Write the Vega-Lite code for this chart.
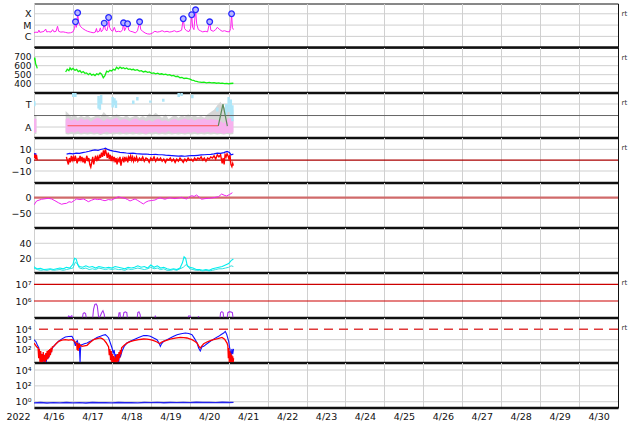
{
"$schema": "https://vega.github.io/schema/vega-lite/v6.json",
"padding": {"left": 3, "top": 2.5, "right": 0, "bottom": 0},
"spacing": 0,
"bounds": "flush",
"config": {
  "view": {"stroke": "#111", "strokeWidth": 1},
  "font": "DejaVu Sans",
  "axis": {"labelFont": "DejaVu Sans", "labelFontSize": 9.5, "labelColor": "#111", "gridColor": "#d0d0d0", "gridWidth": 1, "ticks": false, "tickSize": 0, "labelPadding": 3, "domain": false, "titleFont": "DejaVu Sans"},
  "axisY": {"minExtent": 30, "maxExtent": 30, "grid": false, "titleAngle": 0, "titleX": 587, "titleY": 10, "titleAlign": "left", "titleBaseline": "middle", "titleFontSize": 7, "titleFontWeight": "normal", "titleColor": "#333", "labelOverlap": false},
  "axisX": {"labelFlush": false, "labelOverlap": false, "labelBound": false},
  "rule": {"color": "#cfcfcf", "strokeWidth": 1}
},
"datasets": {
  "xr": [{"h":0,"v":-5.68},{"h":1.2,"v":-5.62},{"h":2.4,"v":-5.66},{"h":3.0,"v":-5.45},{"h":3.6,"v":-5.64},{"h":5,"v":-5.6},{"h":6.2,"v":-5.55},{"h":7.2,"v":-5.35},{"h":7.8,"v":-5.6},{"h":9,"v":-5.58},{"h":10.5,"v":-5.62},{"h":11.5,"v":-5.4},{"h":12.3,"v":-5.6},{"h":13.6,"v":-5.55},{"h":14.5,"v":-5.1},{"h":15.2,"v":-5.55},{"h":16.5,"v":-5.62},{"h":18,"v":-5.6},{"h":19.5,"v":-5.65},{"h":21,"v":-5.7},{"h":22.5,"v":-5.68},{"h":24,"v":-5.6},{"h":25,"v":-5.3},{"h":25.6,"v":-4.71},{"h":26.1,"v":-5.2},{"h":26.6,"v":-4.6},{"h":26.9,"v":-3.91},{"h":27.5,"v":-4.7},{"h":28.5,"v":-5.1},{"h":30,"v":-5.3},{"h":31.6,"v":-5.45},{"h":33,"v":-5.55},{"h":34.7,"v":-5.62},{"h":36.5,"v":-5.68},{"h":37.8,"v":-5.62},{"h":38.5,"v":-5.3},{"h":39,"v":-5.62},{"h":40.2,"v":-5.55},{"h":40.9,"v":-5.25},{"h":41.5,"v":-5.6},{"h":42.5,"v":-5.4},{"h":43.3,"v":-4.83},{"h":44,"v":-5.4},{"h":45,"v":-5.5},{"h":45.6,"v":-5.1},{"h":46,"v":-4.33},{"h":46.6,"v":-5.2},{"h":47.5,"v":-5.45},{"h":48.5,"v":-5.55},{"h":49.5,"v":-5.2},{"h":50.5,"v":-5.6},{"h":52,"v":-5.55},{"h":53.5,"v":-5.6},{"h":54.6,"v":-5.4},{"h":55.2,"v":-4.8},{"h":55.8,"v":-5.5},{"h":56.8,"v":-5.2},{"h":57.7,"v":-4.88},{"h":58.4,"v":-5.45},{"h":59.5,"v":-5.55},{"h":61,"v":-5.6},{"h":62.5,"v":-5.7},{"h":63.8,"v":-5.5},{"h":65.1,"v":-4.71},{"h":65.8,"v":-5.4},{"h":67,"v":-5.55},{"h":68.5,"v":-5.7},{"h":70,"v":-5.78},{"h":71.5,"v":-5.8},{"h":73,"v":-5.7},{"h":74.5,"v":-5.55},{"h":76,"v":-5.62},{"h":77.5,"v":-5.58},{"h":79,"v":-5.5},{"h":80.5,"v":-5.6},{"h":82,"v":-5.55},{"h":83.5,"v":-5.62},{"h":85,"v":-5.58},{"h":86.5,"v":-5.5},{"h":88,"v":-5.6},{"h":89.5,"v":-5.55},{"h":91,"v":-5.45},{"h":92,"v":-4.44},{"h":92.8,"v":-5.3},{"h":94,"v":-5.5},{"h":95.5,"v":-5.58},{"h":96.5,"v":-5.3},{"h":97.2,"v":-4.09},{"h":97.8,"v":-5.2},{"h":98.6,"v":-5.4},{"h":99.6,"v":-3.65},{"h":100.3,"v":-4.9},{"h":101.3,"v":-5.4},{"h":102.5,"v":-5.5},{"h":104,"v":-5.6},{"h":105.5,"v":-5.55},{"h":107,"v":-5.6},{"h":108.3,"v":-4.71},{"h":109,"v":-5.45},{"h":110.5,"v":-5.55},{"h":112,"v":-5.4},{"h":113,"v":-5.2},{"h":114.5,"v":-5.4},{"h":116,"v":-5.55},{"h":117.5,"v":-5.5},{"h":119,"v":-5.58},{"h":120.5,"v":-5.6},{"h":121.2,"v":-5.3},{"h":121.8,"v":-4.0},{"h":122.3,"v":-5.2},{"h":122.9,"v":-5.4}],
  "fl": [{"h":25.6,"v":-4.71},{"h":26.9,"v":-3.91},{"h":43.3,"v":-4.83},{"h":46.0,"v":-4.33},{"h":55.2,"v":-4.80},{"h":57.7,"v":-4.88},{"h":65.1,"v":-4.71},{"h":92.0,"v":-4.44},{"h":97.2,"v":-4.09},{"h":99.6,"v":-3.65},{"h":108.3,"v":-4.71},{"h":121.8,"v":-4.0}],
  "sw": [{"s":1,"h":0,"v":660},{"s":1,"h":0.5,"v":690},{"s":1,"h":1,"v":620},{"s":1,"h":1.5,"v":600},{"s":1,"h":2,"v":570},
    {"s":2,"h":19.5,"v":530},{"s":2,"h":20.5,"v":560},{"s":2,"h":21.5,"v":545},{"s":2,"h":22.2,"v":575},{"s":2,"h":23,"v":555},{"s":2,"h":24,"v":570},{"s":2,"h":25.3,"v":548},{"s":2,"h":26.3,"v":560},{"s":2,"h":27.3,"v":535},{"s":2,"h":28.3,"v":545},{"s":2,"h":29.3,"v":522},{"s":2,"h":30.3,"v":535},{"s":2,"h":31.4,"v":515},{"s":2,"h":32.4,"v":520},{"s":2,"h":33.5,"v":500},{"s":2,"h":34.5,"v":515},{"s":2,"h":35.6,"v":495},{"s":2,"h":36.6,"v":505},{"s":2,"h":37.6,"v":490},{"s":2,"h":38.6,"v":510},{"s":2,"h":39.7,"v":500},{"s":2,"h":40.7,"v":520},{"s":2,"h":41.7,"v":505},{"s":2,"h":42.7,"v":465},{"s":2,"h":43.7,"v":490},{"s":2,"h":44.8,"v":540},{"s":2,"h":45.8,"v":530},{"s":2,"h":46.8,"v":548},{"s":2,"h":47.8,"v":540},{"s":2,"h":48.9,"v":560},{"s":2,"h":49.9,"v":550},{"s":2,"h":50.9,"v":582},{"s":2,"h":52,"v":565},{"s":2,"h":53,"v":585},{"s":2,"h":54.1,"v":570},{"s":2,"h":55.1,"v":578},{"s":2,"h":56.1,"v":565},{"s":2,"h":57.1,"v":575},{"s":2,"h":58.1,"v":560},{"s":2,"h":59.2,"v":565},{"s":2,"h":60.2,"v":555},{"s":2,"h":61.3,"v":560},{"s":2,"h":62.3,"v":548},{"s":2,"h":63.6,"v":555},{"s":2,"h":65,"v":540},{"s":2,"h":66.2,"v":545},{"s":2,"h":67.4,"v":530},{"s":2,"h":68.7,"v":538},{"s":2,"h":70,"v":525},{"s":2,"h":71.2,"v":530},{"s":2,"h":72.5,"v":515},{"s":2,"h":73.8,"v":520},{"s":2,"h":75,"v":510},{"s":2,"h":76.3,"v":516},{"s":2,"h":77.5,"v":505},{"s":2,"h":78.7,"v":510},{"s":2,"h":80,"v":500},{"s":2,"h":81.2,"v":505},{"s":2,"h":82.4,"v":495},{"s":2,"h":83.6,"v":500},{"s":2,"h":84.8,"v":487},{"s":2,"h":86,"v":492},{"s":2,"h":87.3,"v":478},{"s":2,"h":88.6,"v":482},{"s":2,"h":90,"v":466},{"s":2,"h":91.2,"v":470},{"s":2,"h":92.5,"v":458},{"s":2,"h":93.8,"v":462},{"s":2,"h":95.1,"v":455},{"s":2,"h":96.2,"v":450},{"s":2,"h":97.3,"v":440},{"s":2,"h":98.3,"v":438},{"s":2,"h":99.3,"v":428},{"s":2,"h":100.3,"v":425},{"s":2,"h":101.3,"v":420},{"s":2,"h":102.3,"v":418},{"s":2,"h":103.3,"v":414},{"s":2,"h":104.8,"v":418},{"s":2,"h":106.4,"v":410},{"s":2,"h":108,"v":414},{"s":2,"h":109.5,"v":408},{"s":2,"h":111,"v":412},{"s":2,"h":112.5,"v":405},{"s":2,"h":114,"v":408},{"s":2,"h":114.7,"v":403},{"s":2,"h":116,"v":406},{"s":2,"h":117.5,"v":400},{"s":2,"h":119,"v":404},{"s":2,"h":119.8,"v":399},{"s":2,"h":121,"v":402},{"s":2,"h":122.9,"v":405}],
  "ip": [{"s":1,"h":0,"lo":-1.5,"hi":-0.25},{"s":1,"h":1.5,"lo":-1.45,"hi":-0.3},
    {"s":2,"h":19.5,"lo":-1.45,"hi":-0.35},{"s":2,"h":21,"lo":-1.55,"hi":-0.2},{"s":2,"h":23,"lo":-1.4,"hi":-0.45},{"s":2,"h":25,"lo":-1.5,"hi":-0.3},{"s":2,"h":27,"lo":-1.35,"hi":-0.5},{"s":2,"h":29,"lo":-1.55,"hi":-0.25},{"s":2,"h":31,"lo":-1.45,"hi":-0.4},{"s":2,"h":33,"lo":-1.5,"hi":-0.3},{"s":2,"h":35,"lo":-1.4,"hi":-0.55},{"s":2,"h":37,"lo":-1.55,"hi":-0.35},{"s":2,"h":39,"lo":-1.45,"hi":-0.2},{"s":2,"h":41,"lo":-1.6,"hi":-0.3},{"s":2,"h":43,"lo":-1.5,"hi":-0.5},{"s":2,"h":45,"lo":-1.4,"hi":-0.25},{"s":2,"h":47,"lo":-1.55,"hi":-0.4},{"s":2,"h":49,"lo":-1.45,"hi":-0.3},{"s":2,"h":51,"lo":-1.5,"hi":-0.2},{"s":2,"h":53,"lo":-1.4,"hi":-0.45},{"s":2,"h":55,"lo":-1.55,"hi":-0.3},{"s":2,"h":57,"lo":-1.45,"hi":-0.35},{"s":2,"h":59,"lo":-1.5,"hi":-0.5},{"s":2,"h":61,"lo":-1.4,"hi":-0.3},{"s":2,"h":63,"lo":-1.55,"hi":-0.25},{"s":2,"h":65,"lo":-1.45,"hi":-0.45},{"s":2,"h":67,"lo":-1.5,"hi":-0.35},{"s":2,"h":69,"lo":-1.6,"hi":-0.5},{"s":2,"h":71,"lo":-1.45,"hi":-0.4},{"s":2,"h":73,"lo":-1.5,"hi":-0.55},{"s":2,"h":75,"lo":-1.4,"hi":-0.35},{"s":2,"h":77,"lo":-1.55,"hi":-0.3},{"s":2,"h":79,"lo":-1.45,"hi":-0.5},{"s":2,"h":81,"lo":-1.5,"hi":-0.4},{"s":2,"h":83,"lo":-1.35,"hi":-0.55},{"s":2,"h":85,"lo":-1.5,"hi":-0.35},{"s":2,"h":87,"lo":-1.55,"hi":-0.3},{"s":2,"h":89,"lo":-1.45,"hi":-0.45},{"s":2,"h":91,"lo":-1.5,"hi":-0.35},{"s":2,"h":93,"lo":-1.55,"hi":-0.25},{"s":2,"h":95,"lo":-1.45,"hi":-0.4},{"s":2,"h":97,"lo":-1.5,"hi":-0.3},{"s":2,"h":99,"lo":-1.4,"hi":-0.45},{"s":2,"h":101,"lo":-1.55,"hi":-0.3},{"s":2,"h":103,"lo":-1.45,"hi":-0.35},{"s":2,"h":105,"lo":-1.5,"hi":-0.25},{"s":2,"h":107,"lo":-1.4,"hi":-0.4},{"s":2,"h":109,"lo":-1.5,"hi":-0.3},{"s":2,"h":111,"lo":-1.45,"hi":-0.35},{"s":2,"h":113,"lo":-1.55,"hi":-0.4},{"s":2,"h":115,"lo":-1.5,"hi":-0.5},{"s":2,"h":117,"lo":-1.6,"hi":-0.7},{"s":2,"h":119,"lo":-1.5,"hi":-0.3},{"s":2,"h":121,"lo":-1.55,"hi":-0.2},{"s":2,"h":122.9,"lo":-1.45,"hi":-0.35}],
  "ig": [{"s":1,"h":0,"lo":-1.6,"hi":-0.1},{"s":1,"h":1.5,"lo":-1.6,"hi":0.0},
    {"s":2,"h":19.5,"lo":-1.6,"hi":0.4},{"s":2,"h":21,"lo":-1.65,"hi":0.2},{"s":2,"h":23,"lo":-1.6,"hi":-0.1},{"s":2,"h":25,"lo":-1.65,"hi":0.1},{"s":2,"h":27,"lo":-1.6,"hi":-0.2},{"s":2,"h":29,"lo":-1.65,"hi":-0.05},{"s":2,"h":31,"lo":-1.6,"hi":-0.15},{"s":2,"h":33,"lo":-1.65,"hi":0.0},{"s":2,"h":35,"lo":-1.6,"hi":-0.2},{"s":2,"h":37,"lo":-1.65,"hi":-0.1},{"s":2,"h":39,"lo":-1.6,"hi":0.05},{"s":2,"h":41,"lo":-1.7,"hi":-0.1},{"s":2,"h":43,"lo":-1.6,"hi":0.3},{"s":2,"h":45,"lo":-1.65,"hi":0.0},{"s":2,"h":47,"lo":-1.6,"hi":-0.15},{"s":2,"h":49,"lo":-1.65,"hi":-0.05},{"s":2,"h":51,"lo":-1.6,"hi":0.1},{"s":2,"h":53,"lo":-1.65,"hi":-0.1},{"s":2,"h":55,"lo":-1.6,"hi":-0.15},{"s":2,"h":57,"lo":-1.65,"hi":0.0},{"s":2,"h":59,"lo":-1.6,"hi":-0.2},{"s":2,"h":61,"lo":-1.65,"hi":-0.1},{"s":2,"h":63,"lo":-1.6,"hi":0.0},{"s":2,"h":65,"lo":-1.65,"hi":-0.2},{"s":2,"h":67,"lo":-1.6,"hi":-0.05},{"s":2,"h":69,"lo":-1.65,"hi":-0.2},{"s":2,"h":71,"lo":-1.6,"hi":0.2},{"s":2,"h":73,"lo":-1.65,"hi":0.0},{"s":2,"h":75,"lo":-1.6,"hi":0.25},{"s":2,"h":77,"lo":-1.65,"hi":0.0},{"s":2,"h":79,"lo":-1.6,"hi":-0.2},{"s":2,"h":81,"lo":-1.65,"hi":0.1},{"s":2,"h":83,"lo":-1.6,"hi":-0.3},{"s":2,"h":85,"lo":-1.65,"hi":-0.1},{"s":2,"h":87,"lo":-1.6,"hi":0.05},{"s":2,"h":89,"lo":-1.65,"hi":-0.2},{"s":2,"h":91,"lo":-1.6,"hi":0.0},{"s":2,"h":93,"lo":-1.65,"hi":-0.1},{"s":2,"h":95,"lo":-1.6,"hi":0.1},{"s":2,"h":97,"lo":-1.65,"hi":-0.1},{"s":2,"h":99,"lo":-1.6,"hi":0.0},{"s":2,"h":101,"lo":-1.65,"hi":-0.15},{"s":2,"h":103,"lo":-1.6,"hi":-0.05},{"s":2,"h":105,"lo":-1.65,"hi":-0.2},{"s":2,"h":107,"lo":-1.6,"hi":0.1},{"s":2,"h":109,"lo":-1.65,"hi":0.3},{"s":2,"h":111,"lo":-1.6,"hi":0.5},{"s":2,"h":113,"lo":-1.65,"hi":0.9},{"s":2,"h":115,"lo":-1.6,"hi":1.2},{"s":2,"h":117,"lo":-1.65,"hi":0.6},{"s":2,"h":119,"lo":-1.6,"hi":1.0},{"s":2,"h":121,"lo":-1.65,"hi":0.8},{"s":2,"h":122.9,"lo":-1.6,"hi":0.5}],
  "ib": [{"h":0.2,"lo":0.8,"hi":1.25},{"h":24.2,"lo":1.6,"hi":1.95},{"h":25.5,"lo":1.6,"hi":1.95},{"h":39.8,"lo":0.6,"hi":1.7},{"h":40.6,"lo":0.5,"hi":1.5},{"h":41.4,"lo":1.0,"hi":1.78},{"h":48.5,"lo":0.7,"hi":1.6},{"h":49.6,"lo":0.9,"hi":1.5},{"h":50.5,"lo":0.65,"hi":1.3},{"h":61.2,"lo":1.0,"hi":1.3},{"h":63.7,"lo":1.3,"hi":1.6},{"h":71.7,"lo":1.1,"hi":1.3},{"h":79.7,"lo":1.2,"hi":1.45},{"h":89.2,"lo":1.6,"hi":1.95},{"h":91,"lo":1.7,"hi":1.95},{"h":97.6,"lo":1.5,"hi":1.8},{"h":113,"lo":0.35,"hi":0.7},{"h":118.5,"lo":0.0,"hi":1.0},{"h":120,"lo":0.3,"hi":1.6},{"h":121.3,"lo":-0.2,"hi":1.4},{"h":122.3,"lo":-0.5,"hi":0.9}],
  "ir": [{"h":20.7,"v":-0.89},{"h":113.6,"v":-0.89}],
  "igr": [{"h":113.6,"v":-0.89},{"h":116.5,"v":0.99},{"h":119.2,"v":-0.92}],
  "bt": [{"s":1,"h":0,"v":6},{"s":1,"h":1.5,"v":5.5},
    {"s":2,"h":20.1,"v":5.6},{"s":2,"h":22,"v":6.2},{"s":2,"h":24,"v":5.8},{"s":2,"h":26,"v":6.5},{"s":2,"h":28,"v":6.3},{"s":2,"h":30,"v":7},{"s":2,"h":32,"v":7.5},{"s":2,"h":34,"v":8.2},{"s":2,"h":36,"v":9},{"s":2,"h":37.6,"v":9.5},{"s":2,"h":39.5,"v":9},{"s":2,"h":41,"v":9.8},{"s":2,"h":43,"v":10.5},{"s":2,"h":44,"v":11},{"s":2,"h":45,"v":10.2},{"s":2,"h":47,"v":9},{"s":2,"h":49,"v":8.3},{"s":2,"h":51,"v":7.8},{"s":2,"h":53,"v":7.2},{"s":2,"h":55,"v":7},{"s":2,"h":57,"v":6.6},{"s":2,"h":59,"v":6.3},{"s":2,"h":61,"v":6.5},{"s":2,"h":63,"v":6},{"s":2,"h":65,"v":5.8},{"s":2,"h":67,"v":5.6},{"s":2,"h":69,"v":5.7},{"s":2,"h":71,"v":5.3},{"s":2,"h":73,"v":5.2},{"s":2,"h":75,"v":5.4},{"s":2,"h":77,"v":5},{"s":2,"h":79,"v":5},{"s":2,"h":81,"v":4.6},{"s":2,"h":83,"v":4.4},{"s":2,"h":85,"v":4.2},{"s":2,"h":87,"v":4},{"s":2,"h":89,"v":3.7},{"s":2,"h":91,"v":3.9},{"s":2,"h":93,"v":3.6},{"s":2,"h":95,"v":4},{"s":2,"h":97,"v":4.3},{"s":2,"h":99,"v":4.2},{"s":2,"h":101,"v":4.5},{"s":2,"h":103,"v":4.8},{"s":2,"h":105,"v":5},{"s":2,"h":107,"v":5.2},{"s":2,"h":109,"v":5.4},{"s":2,"h":111,"v":5.8},{"s":2,"h":113,"v":6.5},{"s":2,"h":115,"v":6.2},{"s":2,"h":117,"v":7},{"s":2,"h":119,"v":8},{"s":2,"h":120.5,"v":7},{"s":2,"h":121.5,"v":5},{"s":2,"h":122.9,"v":5.5}],
  "bz": [{"s":1,"h":0,"v":2},{"s":1,"h":0.5,"v":6},{"s":1,"h":1,"v":1},{"s":1,"h":1.5,"v":5},{"s":1,"h":2,"v":0},
    {"s":2,"h":20,"v":3},{"s":2,"h":20.6,"v":-1},{"s":2,"h":21.2,"v":-4},{"s":2,"h":21.8,"v":2},{"s":2,"h":22.4,"v":-2},{"s":2,"h":23,"v":4},{"s":2,"h":23.6,"v":0},{"s":2,"h":24.2,"v":3},{"s":2,"h":24.8,"v":-1},{"s":2,"h":25.4,"v":4},{"s":2,"h":26,"v":1},{"s":2,"h":26.6,"v":-3},{"s":2,"h":27.2,"v":2},{"s":2,"h":27.8,"v":-1},{"s":2,"h":28.4,"v":4},{"s":2,"h":29,"v":0},{"s":2,"h":29.6,"v":3},{"s":2,"h":30.2,"v":-2},{"s":2,"h":30.8,"v":2},{"s":2,"h":31.4,"v":-3},{"s":2,"h":32,"v":1},{"s":2,"h":32.6,"v":4},{"s":2,"h":33.2,"v":-1},{"s":2,"h":33.8,"v":2},{"s":2,"h":34.4,"v":-4},{"s":2,"h":35,"v":-6.5},{"s":2,"h":35.6,"v":-2},{"s":2,"h":36.2,"v":3},{"s":2,"h":36.8,"v":-4},{"s":2,"h":37.4,"v":1},{"s":2,"h":38,"v":4},{"s":2,"h":38.6,"v":-1},{"s":2,"h":39.2,"v":3},{"s":2,"h":39.8,"v":0},{"s":2,"h":40.4,"v":5},{"s":2,"h":41,"v":2},{"s":2,"h":41.6,"v":7},{"s":2,"h":42.2,"v":3},{"s":2,"h":42.8,"v":9},{"s":2,"h":43.4,"v":4},{"s":2,"h":44,"v":10},{"s":2,"h":44.6,"v":6},{"s":2,"h":45.2,"v":2},{"s":2,"h":45.8,"v":7},{"s":2,"h":46.4,"v":1},{"s":2,"h":47,"v":5},{"s":2,"h":47.6,"v":-1},{"s":2,"h":48.2,"v":4},{"s":2,"h":48.8,"v":0},{"s":2,"h":49.4,"v":3},{"s":2,"h":50,"v":-2},{"s":2,"h":50.6,"v":2},{"s":2,"h":51.2,"v":-4},{"s":2,"h":51.8,"v":1},{"s":2,"h":52.4,"v":-1},{"s":2,"h":53,"v":3},{"s":2,"h":53.6,"v":-5},{"s":2,"h":54.2,"v":0},{"s":2,"h":54.8,"v":2},{"s":2,"h":55.4,"v":-2},{"s":2,"h":56,"v":3},{"s":2,"h":56.6,"v":0},{"s":2,"h":57.2,"v":2},{"s":2,"h":57.8,"v":-2},{"s":2,"h":58.4,"v":3},{"s":2,"h":59,"v":1},{"s":2,"h":59.6,"v":4},{"s":2,"h":60.2,"v":0},{"s":2,"h":60.8,"v":3},{"s":2,"h":61.4,"v":-1},{"s":2,"h":62,"v":2},{"s":2,"h":62.6,"v":0},{"s":2,"h":63.2,"v":3},{"s":2,"h":64,"v":-1},{"s":2,"h":65,"v":2},{"s":2,"h":66,"v":0},{"s":2,"h":67,"v":3},{"s":2,"h":68,"v":-1},{"s":2,"h":69,"v":2},{"s":2,"h":70,"v":1},{"s":2,"h":71,"v":-2},{"s":2,"h":72,"v":2},{"s":2,"h":73,"v":0},{"s":2,"h":74,"v":3},{"s":2,"h":75,"v":-1},{"s":2,"h":76,"v":2},{"s":2,"h":77,"v":0},{"s":2,"h":78,"v":2},{"s":2,"h":79,"v":-1},{"s":2,"h":80,"v":1},{"s":2,"h":81,"v":-2},{"s":2,"h":82,"v":1},{"s":2,"h":83,"v":0},{"s":2,"h":84,"v":2},{"s":2,"h":85,"v":-1},{"s":2,"h":86,"v":1},{"s":2,"h":87,"v":-2},{"s":2,"h":88,"v":1},{"s":2,"h":89,"v":-1},{"s":2,"h":90,"v":2},{"s":2,"h":91,"v":0},{"s":2,"h":92,"v":-2},{"s":2,"h":93,"v":1},{"s":2,"h":94,"v":-1},{"s":2,"h":95,"v":2},{"s":2,"h":96,"v":0},{"s":2,"h":97,"v":1},{"s":2,"h":98,"v":-1},{"s":2,"h":99,"v":2},{"s":2,"h":100,"v":0},{"s":2,"h":101,"v":2},{"s":2,"h":102,"v":1},{"s":2,"h":103,"v":3},{"s":2,"h":104,"v":0},{"s":2,"h":105,"v":2},{"s":2,"h":106,"v":-1},{"s":2,"h":107,"v":2},{"s":2,"h":108,"v":1},{"s":2,"h":109,"v":3},{"s":2,"h":110,"v":2},{"s":2,"h":111,"v":4},{"s":2,"h":112,"v":1},{"s":2,"h":113,"v":5},{"s":2,"h":114,"v":3},{"s":2,"h":115,"v":5},{"s":2,"h":116,"v":-3},{"s":2,"h":116.6,"v":2},{"s":2,"h":117.2,"v":-4},{"s":2,"h":117.8,"v":5},{"s":2,"h":118.4,"v":3},{"s":2,"h":119,"v":6},{"s":2,"h":119.6,"v":4},{"s":2,"h":120.2,"v":1},{"s":2,"h":120.8,"v":5},{"s":2,"h":121.4,"v":-4},{"s":2,"h":122,"v":-6},{"s":2,"h":122.5,"v":-3},{"s":2,"h":122.9,"v":-5}],
  "dst": [{"h":0,"v":-23},{"h":1.6,"v":-10.5},{"h":4.7,"v":-5},{"h":8.8,"v":-2},{"h":10.8,"v":-4},{"h":12.9,"v":-9.6},{"h":15,"v":-16},{"h":17,"v":-21},{"h":18.5,"v":-19},{"h":20.1,"v":-18},{"h":21.6,"v":-13},{"h":23.2,"v":-14.7},{"h":24.8,"v":-9},{"h":26.3,"v":-4},{"h":28.3,"v":-6},{"h":30.4,"v":-4},{"h":32,"v":-8},{"h":33.5,"v":-12.8},{"h":35.5,"v":-8},{"h":37.6,"v":-4},{"h":39.2,"v":-6},{"h":40.7,"v":-5},{"h":42.3,"v":-8},{"h":43.8,"v":-9.6},{"h":45.8,"v":-6},{"h":47.8,"v":-7.4},{"h":50,"v":-2},{"h":52,"v":3},{"h":54,"v":0},{"h":56.1,"v":-2},{"h":57.7,"v":-6},{"h":59.2,"v":-10.5},{"h":60.8,"v":-7},{"h":62.3,"v":-4},{"h":64,"v":-9},{"h":65.8,"v":-15},{"h":67.4,"v":-20},{"h":69,"v":-14},{"h":70.5,"v":-10.5},{"h":72.5,"v":-9},{"h":74.6,"v":-7.4},{"h":76.2,"v":-3},{"h":77.7,"v":0},{"h":79.3,"v":-3},{"h":80.8,"v":-5},{"h":82.3,"v":-2},{"h":83.8,"v":0},{"h":85.4,"v":-2},{"h":86.9,"v":-3},{"h":89,"v":-1},{"h":91,"v":1},{"h":92.5,"v":-2},{"h":94.1,"v":-4},{"h":95.6,"v":2},{"h":97.2,"v":6.4},{"h":98.7,"v":4},{"h":100.2,"v":8.6},{"h":101.8,"v":2},{"h":103.3,"v":-5},{"h":105.4,"v":-3},{"h":107.5,"v":-2},{"h":109.5,"v":-1},{"h":111.6,"v":1},{"h":113.7,"v":3},{"h":115.7,"v":11.8},{"h":117.2,"v":8},{"h":118.7,"v":5.4},{"h":120.5,"v":10},{"h":122.3,"v":16}],
  "c1": [{"h":0,"v":9},{"h":1,"v":7},{"h":2,"v":6},{"h":4,"v":6.5},{"h":6,"v":5},{"h":8,"v":5.5},{"h":10,"v":6},{"h":12,"v":5},{"h":14,"v":6},{"h":16,"v":7},{"h":18,"v":6},{"h":20,"v":8},{"h":22,"v":7},{"h":24,"v":12},{"h":25,"v":20},{"h":26,"v":19},{"h":27,"v":12},{"h":28,"v":9},{"h":30,"v":8},{"h":32,"v":10},{"h":34,"v":8},{"h":36,"v":9},{"h":38,"v":7},{"h":40,"v":9},{"h":42,"v":8},{"h":44,"v":7},{"h":46,"v":8},{"h":48,"v":7},{"h":50,"v":9},{"h":52,"v":8},{"h":54,"v":7},{"h":56,"v":6},{"h":58,"v":8},{"h":60,"v":7},{"h":62,"v":8},{"h":64,"v":10},{"h":66,"v":8},{"h":68,"v":9},{"h":70,"v":7},{"h":72,"v":11},{"h":74,"v":8},{"h":76,"v":10},{"h":78,"v":7},{"h":80,"v":8},{"h":82,"v":6},{"h":84,"v":5},{"h":86,"v":6},{"h":88,"v":5},{"h":90,"v":7},{"h":91.5,"v":14},{"h":92.5,"v":22},{"h":93.5,"v":20},{"h":94.5,"v":10},{"h":96,"v":8},{"h":98,"v":7},{"h":100,"v":5},{"h":102,"v":5},{"h":104,"v":4},{"h":106,"v":5},{"h":108,"v":4},{"h":110,"v":6},{"h":112,"v":7},{"h":114,"v":8},{"h":116,"v":9},{"h":118,"v":11},{"h":120,"v":13},{"h":121.5,"v":17},{"h":122.9,"v":19}],
  "c2": [{"h":0,"v":7},{"h":2,"v":5},{"h":4,"v":4},{"h":6,"v":4.5},{"h":8,"v":4},{"h":10,"v":5},{"h":12,"v":4},{"h":14,"v":4.5},{"h":16,"v":5},{"h":18,"v":4},{"h":20,"v":5},{"h":22,"v":6},{"h":24,"v":7},{"h":25.5,"v":15},{"h":26.5,"v":13},{"h":28,"v":7},{"h":30,"v":6},{"h":32,"v":7},{"h":34,"v":5},{"h":36,"v":6},{"h":38,"v":5},{"h":40,"v":7},{"h":42,"v":6},{"h":44,"v":5},{"h":46,"v":6},{"h":48,"v":5},{"h":50,"v":6},{"h":52,"v":5},{"h":54,"v":5},{"h":56,"v":4},{"h":58,"v":6},{"h":60,"v":5},{"h":62,"v":6},{"h":64,"v":7},{"h":66,"v":6},{"h":68,"v":5},{"h":70,"v":6},{"h":72,"v":8},{"h":74,"v":6},{"h":76,"v":7},{"h":78,"v":5},{"h":80,"v":6},{"h":82,"v":4},{"h":84,"v":4},{"h":86,"v":5},{"h":88,"v":4},{"h":90,"v":6},{"h":92,"v":8},{"h":94,"v":12},{"h":95,"v":9},{"h":96,"v":6},{"h":98,"v":5},{"h":100,"v":4},{"h":102,"v":4},{"h":104,"v":3},{"h":106,"v":4},{"h":108,"v":3},{"h":110,"v":4},{"h":112,"v":5},{"h":114,"v":6},{"h":116,"v":6},{"h":118,"v":7},{"h":120,"v":8},{"h":121.5,"v":10},{"h":122.9,"v":9}],
  "pe": [{"h":0,"v":4.8},{"h":20.5,"v":4.8},{"h":21.3,"v":5.1},{"h":22.3,"v":5.05},{"h":23.3,"v":5.12},{"h":24,"v":4.8},{"h":29.5,"v":4.8},{"h":30.3,"v":5.25},{"h":31,"v":5.3},{"h":31.8,"v":5.25},{"h":32.5,"v":4.8},{"h":36,"v":4.8},{"h":36.7,"v":5.5},{"h":37.5,"v":5.8},{"h":38.3,"v":5.82},{"h":39,"v":5.7},{"h":39.5,"v":5.3},{"h":40,"v":4.9},{"h":41.7,"v":5.3},{"h":42.5,"v":5.42},{"h":43.3,"v":5.2},{"h":43.8,"v":4.8},{"h":51.8,"v":4.8},{"h":52.4,"v":5.28},{"h":53,"v":5.3},{"h":53.5,"v":4.8},{"h":54.7,"v":4.9},{"h":55.4,"v":5.3},{"h":56.3,"v":5.35},{"h":57.2,"v":5.3},{"h":57.8,"v":4.8},{"h":63.4,"v":4.8},{"h":64,"v":5.3},{"h":64.7,"v":5.35},{"h":65.4,"v":5.2},{"h":66,"v":4.8},{"h":74.3,"v":4.8},{"h":74.8,"v":5.12},{"h":75.3,"v":4.8},{"h":94.8,"v":4.8},{"h":95.3,"v":5.1},{"h":96.3,"v":5.1},{"h":96.8,"v":4.8},{"h":100.9,"v":4.8},{"h":101.4,"v":5.1},{"h":101.9,"v":4.8},{"h":114.5,"v":4.8},{"h":115,"v":5.3},{"h":115.8,"v":5.36},{"h":116.6,"v":5.3},{"h":117.1,"v":4.8},{"h":118.9,"v":4.8},{"h":119.5,"v":5.3},{"h":120.5,"v":5.36},{"h":121.5,"v":5.34},{"h":122.3,"v":5.3},{"h":122.9,"v":4.8}],
  "pb": [{"h":0,"v":3.0},{"h":1.2,"v":2.8},{"h":2.3,"v":2.4},{"h":3,"v":2.2},{"h":3.5,"v":1.4},{"h":4,"v":1.9},{"h":4.5,"v":0.85},{"h":5,"v":1.3},{"h":5.5,"v":0.85},{"h":6,"v":1.2},{"h":6.5,"v":0.85},{"h":7,"v":1.6},{"h":7.5,"v":0.85},{"h":8,"v":1.3},{"h":8.5,"v":1.7},{"h":9,"v":1.2},{"h":9.5,"v":1.9},{"h":10,"v":1.55},{"h":11,"v":2.1},{"h":12.1,"v":2.35},{"h":13.5,"v":2.6},{"h":15.2,"v":2.84},{"h":17,"v":3.05},{"h":19.3,"v":3.26},{"h":21.3,"v":3.3},{"h":23.4,"v":3.32},{"h":24.5,"v":3.0},{"h":25.5,"v":2.4},{"h":26.1,"v":2.8},{"h":26.7,"v":2.9},{"h":27.3,"v":2.5},{"h":27.9,"v":2.6},{"h":28.2,"v":1.5},{"h":28.4,"v":0.8},{"h":28.6,"v":1.8},{"h":28.9,"v":2.5},{"h":29.6,"v":2.5},{"h":31,"v":2.6},{"h":32.7,"v":2.67},{"h":34.7,"v":2.85},{"h":36.7,"v":3.0},{"h":38.8,"v":3.2},{"h":40.9,"v":3.32},{"h":42.5,"v":3.42},{"h":44,"v":3.48},{"h":45,"v":3.35},{"h":46,"v":3.16},{"h":47,"v":2.7},{"h":48.1,"v":2.19},{"h":48.8,"v":1.7},{"h":49.4,"v":2.0},{"h":50.1,"v":1.22},{"h":50.6,"v":1.6},{"h":51.2,"v":0.85},{"h":51.7,"v":1.4},{"h":52.2,"v":0.8},{"h":52.7,"v":1.7},{"h":53.2,"v":1.3},{"h":54.3,"v":1.9},{"h":55.8,"v":2.4},{"h":57.3,"v":2.67},{"h":59.3,"v":2.85},{"h":61.4,"v":3.0},{"h":64.5,"v":3.2},{"h":67.6,"v":3.39},{"h":69.6,"v":3.4},{"h":71.7,"v":3.32},{"h":73.8,"v":3.15},{"h":75.8,"v":3.0},{"h":77,"v":2.7},{"h":77.9,"v":2.35},{"h":78.6,"v":2.6},{"h":79.9,"v":2.84},{"h":82,"v":3.0},{"h":84,"v":3.16},{"h":86.1,"v":3.32},{"h":88.2,"v":3.48},{"h":90.7,"v":3.57},{"h":93.3,"v":3.64},{"h":95.4,"v":3.6},{"h":97.4,"v":3.48},{"h":99,"v":3.1},{"h":100.5,"v":2.67},{"h":101.5,"v":2.2},{"h":102.5,"v":1.9},{"h":103.5,"v":2.3},{"h":104.6,"v":2.35},{"h":106.6,"v":2.6},{"h":108.7,"v":2.84},{"h":111.2,"v":3.1},{"h":113.8,"v":3.32},{"h":115.4,"v":3.5},{"h":116.9,"v":3.64},{"h":117.9,"v":3.8},{"h":118.8,"v":3.5},{"h":120,"v":2.84},{"h":120.5,"v":2.3},{"h":121,"v":1.9},{"h":121.5,"v":1.4},{"h":122,"v":2.1},{"h":122.5,"v":1.6},{"h":123,"v":2.1}],
  "pr": [{"h":0,"v":2.67},{"h":0.8,"v":2.5},{"h":1.6,"v":2.3},{"h":2.5,"v":2.2},{"h":2.9,"v":1.2},{"h":3.3,"v":2.1},{"h":3.7,"v":0.8},{"h":4.1,"v":1.9},{"h":4.5,"v":0.8},{"h":4.9,"v":1.6},{"h":5.3,"v":0.8},{"h":5.7,"v":1.8},{"h":6.1,"v":0.9},{"h":6.5,"v":1.5},{"h":6.9,"v":0.8},{"h":7.3,"v":1.7},{"h":7.7,"v":1.0},{"h":8.1,"v":1.9},{"h":8.5,"v":1.1},{"h":8.9,"v":2.0},{"h":9.3,"v":1.3},{"h":9.7,"v":2.1},{"h":10.1,"v":1.5},{"h":10.5,"v":2.2},{"h":10.9,"v":1.8},{"h":11.3,"v":2.3},{"h":12.1,"v":2.35},{"h":13.6,"v":2.6},{"h":15.2,"v":2.84},{"h":17.2,"v":2.95},{"h":19.3,"v":3.0},{"h":21.3,"v":2.95},{"h":23.4,"v":3.0},{"h":24.9,"v":2.85},{"h":26.3,"v":2.6},{"h":26.6,"v":2.0},{"h":26.9,"v":2.7},{"h":27.2,"v":1.9},{"h":27.5,"v":2.6},{"h":27.9,"v":2.2},{"h":28.3,"v":2.5},{"h":29.6,"v":2.35},{"h":31.1,"v":2.4},{"h":32.7,"v":2.45},{"h":34.7,"v":2.75},{"h":36.7,"v":3.0},{"h":38.8,"v":3.1},{"h":40.9,"v":3.16},{"h":42,"v":3.1},{"h":43,"v":3.0},{"h":44.5,"v":2.7},{"h":46,"v":2.3},{"h":46.4,"v":1.5},{"h":46.8,"v":2.1},{"h":47.2,"v":1.0},{"h":47.6,"v":1.9},{"h":48,"v":0.8},{"h":48.4,"v":1.6},{"h":48.8,"v":0.8},{"h":49.2,"v":1.4},{"h":49.6,"v":0.8},{"h":50,"v":1.3},{"h":50.4,"v":0.8},{"h":50.8,"v":1.5},{"h":51.2,"v":0.8},{"h":51.6,"v":1.6},{"h":52,"v":0.9},{"h":52.4,"v":1.8},{"h":52.8,"v":1.2},{"h":53.2,"v":2.0},{"h":53.6,"v":1.6},{"h":54,"v":2.2},{"h":55.6,"v":2.45},{"h":57.3,"v":2.67},{"h":59.3,"v":2.8},{"h":61.4,"v":2.9},{"h":64.5,"v":3.0},{"h":67.6,"v":3.06},{"h":69.6,"v":3.05},{"h":71.7,"v":3.0},{"h":73.8,"v":2.9},{"h":75.8,"v":2.77},{"h":77.5,"v":2.6},{"h":78.5,"v":2.75},{"h":79.9,"v":2.84},{"h":82,"v":2.95},{"h":84,"v":3.06},{"h":87,"v":3.15},{"h":90.2,"v":3.22},{"h":92.3,"v":3.2},{"h":94.3,"v":3.16},{"h":95.9,"v":3.08},{"h":97.4,"v":3.0},{"h":99,"v":2.85},{"h":100.5,"v":2.67},{"h":101.5,"v":2.4},{"h":102.5,"v":2.19},{"h":103.5,"v":2.4},{"h":104.6,"v":2.6},{"h":106.6,"v":2.77},{"h":108.7,"v":2.9},{"h":110.7,"v":3.0},{"h":113.3,"v":3.1},{"h":115.9,"v":3.22},{"h":117.5,"v":3.05},{"h":119,"v":2.67},{"h":119.5,"v":2.4},{"h":119.8,"v":1.2},{"h":120.1,"v":2.2},{"h":120.4,"v":0.8},{"h":120.7,"v":1.9},{"h":121,"v":0.8},{"h":121.3,"v":1.7},{"h":121.6,"v":0.8},{"h":121.9,"v":1.5},{"h":122.2,"v":0.8},{"h":122.5,"v":1.4},{"h":122.8,"v":0.8},{"h":123,"v":1.2}],
  "p9": [{"h":0,"v":-0.15},{"h":4,"v":-0.1},{"h":8,"v":-0.16},{"h":12,"v":-0.11},{"h":16,"v":-0.14},{"h":20,"v":-0.1},{"h":24,"v":-0.15},{"h":28,"v":-0.12},{"h":32,"v":-0.16},{"h":36,"v":-0.1},{"h":40,"v":-0.13},{"h":44,"v":-0.11},{"h":48,"v":-0.15},{"h":52,"v":-0.1},{"h":56,"v":-0.13},{"h":60,"v":-0.11},{"h":64,"v":-0.14},{"h":68,"v":-0.1},{"h":72,"v":-0.12},{"h":76,"v":-0.09},{"h":80,"v":-0.13},{"h":84,"v":-0.1},{"h":88,"v":-0.12},{"h":92,"v":-0.08},{"h":96,"v":-0.11},{"h":100,"v":-0.07},{"h":104,"v":-0.1},{"h":108,"v":-0.08},{"h":112,"v":-0.11},{"h":116,"v":-0.07},{"h":120,"v":-0.1},{"h":123,"v":-0.09}],
  "one": [{}]
},
"vconcat": [
  {"width": 584, "height": 43.5, "layer": [
    {"data": {"name": "one"}, "mark": "rule", "encoding": {"y": {"datum": -6, "type": "quantitative", "scale": {"domain": [-6.94, -3.09], "nice": false, "zero": false}, "axis": {"values": [-6, -5, -4], "labelExpr": "datum.value == -4 ? 'X' : datum.value == -5 ? 'M' : 'C'", "title": "rt"}}}},
    {"data": {"name": "one"}, "mark": "rule", "encoding": {"y": {"datum": -5, "type": "quantitative", "scale": {"domain": [-6.94, -3.09], "nice": false, "zero": false}, "axis": {"values": [-6, -5, -4], "labelExpr": "datum.value == -4 ? 'X' : datum.value == -5 ? 'M' : 'C'", "title": "rt"}}}},
    {"data": {"name": "one"}, "mark": "rule", "encoding": {"y": {"datum": -4, "type": "quantitative", "scale": {"domain": [-6.94, -3.09], "nice": false, "zero": false}, "axis": {"values": [-6, -5, -4], "labelExpr": "datum.value == -4 ? 'X' : datum.value == -5 ? 'M' : 'C'", "title": "rt"}}}},
    {"data": {"name": "xr"}, "mark": {"type": "line", "color": "#ff22ee", "strokeWidth": 1, "clip": true},
     "encoding": {
       "x": {"field": "h", "type": "quantitative", "scale": {"domain": [0, 360], "nice": false, "zero": false}, "axis": {"values": [0,24,48,72,96,120,144,168,192,216,240,264,288,312,336], "labels": false, "domain": true, "domainColor": "#111", "domainWidth": 2.6, "title": null}},
       "y": {"field": "v", "type": "quantitative", "scale": {"domain": [-6.94, -3.09], "nice": false, "zero": false}, "axis": {"values": [-6, -5, -4], "labelExpr": "datum.value == -4 ? 'X' : datum.value == -5 ? 'M' : 'C'", "title": "rt"}}}},
    {"data": {"name": "fl"}, "mark": {"type": "point", "filled": true, "fill": "#b8b8ff", "stroke": "#2a2aff", "strokeWidth": 1.3, "size": 32, "opacity": 1},
     "encoding": {
       "x": {"field": "h", "type": "quantitative", "scale": {"domain": [0, 360], "nice": false, "zero": false}, "axis": {"values": [0,24,48,72,96,120,144,168,192,216,240,264,288,312,336], "labels": false, "domain": true, "domainColor": "#111", "domainWidth": 2.6, "title": null}},
       "y": {"field": "v", "type": "quantitative", "scale": {"domain": [-6.94, -3.09], "nice": false, "zero": false}, "axis": {"values": [-6, -5, -4], "labelExpr": "datum.value == -4 ? 'X' : datum.value == -5 ? 'M' : 'C'", "title": "rt"}}}}
  ]},
  {"width": 584, "height": 45, "layer": [
    {"data": {"name": "one"}, "mark": "rule", "encoding": {"y": {"datum": 400, "type": "quantitative", "scale": {"domain": [302, 802], "nice": false, "zero": false}, "axis": {"values": [400, 500, 600, 700], "labelFontSize": 9, "title": "rt"}}}},
    {"data": {"name": "one"}, "mark": "rule", "encoding": {"y": {"datum": 500, "type": "quantitative", "scale": {"domain": [302, 802], "nice": false, "zero": false}, "axis": {"values": [400, 500, 600, 700], "labelFontSize": 9, "title": "rt"}}}},
    {"data": {"name": "one"}, "mark": "rule", "encoding": {"y": {"datum": 600, "type": "quantitative", "scale": {"domain": [302, 802], "nice": false, "zero": false}, "axis": {"values": [400, 500, 600, 700], "labelFontSize": 9, "title": "rt"}}}},
    {"data": {"name": "one"}, "mark": "rule", "encoding": {"y": {"datum": 700, "type": "quantitative", "scale": {"domain": [302, 802], "nice": false, "zero": false}, "axis": {"values": [400, 500, 600, 700], "labelFontSize": 9, "title": "rt"}}}},
    {"data": {"name": "sw"}, "mark": {"type": "line", "color": "#11ee11", "strokeWidth": 1.3, "clip": true},
     "encoding": {
       "x": {"field": "h", "type": "quantitative", "scale": {"domain": [0, 360], "nice": false, "zero": false}, "axis": {"values": [0,24,48,72,96,120,144,168,192,216,240,264,288,312,336], "labels": false, "domain": true, "domainColor": "#111", "domainWidth": 2.6, "title": null}},
       "y": {"field": "v", "type": "quantitative", "scale": {"domain": [302, 802], "nice": false, "zero": false}, "axis": {"values": [400, 500, 600, 700], "labelFontSize": 9, "title": "rt"}},
       "detail": {"field": "s"}}}
  ]},
  {"width": 584, "height": 45, "layer": [
    {"data": {"name": "one"}, "mark": "rule", "encoding": {"y": {"datum": -1, "type": "quantitative", "scale": {"domain": [-1.91, 2.0], "nice": false, "zero": false}, "axis": {"values": [-1, 1], "labelExpr": "datum.value == 1 ? 'T' : 'A'", "title": "rt"}}}},
    {"data": {"name": "one"}, "mark": "rule", "encoding": {"y": {"datum": 1, "type": "quantitative", "scale": {"domain": [-1.91, 2.0], "nice": false, "zero": false}, "axis": {"values": [-1, 1], "labelExpr": "datum.value == 1 ? 'T' : 'A'", "title": "rt"}}}},
    {"data": {"name": "ig"}, "mark": {"type": "area", "color": "#d6d6d6", "clip": true},
     "encoding": {
       "x": {"field": "h", "type": "quantitative", "scale": {"domain": [0, 360], "nice": false, "zero": false}, "axis": {"values": [0,24,48,72,96,120,144,168,192,216,240,264,288,312,336], "labels": false, "domain": true, "domainColor": "#111", "domainWidth": 2.6, "title": null}},
       "y": {"field": "lo", "type": "quantitative", "scale": {"domain": [-1.91, 2.0], "nice": false, "zero": false}, "axis": {"values": [-1, 1], "labelExpr": "datum.value == 1 ? 'T' : 'A'", "title": "rt"}},
       "y2": {"field": "hi"},
       "detail": {"field": "s"}}},
    {"data": {"name": "ip"}, "mark": {"type": "area", "color": "#f7b2ee", "clip": true},
     "encoding": {
       "x": {"field": "h", "type": "quantitative", "scale": {"domain": [0, 360], "nice": false, "zero": false}, "axis": {"values": [0,24,48,72,96,120,144,168,192,216,240,264,288,312,336], "labels": false, "domain": true, "domainColor": "#111", "domainWidth": 2.6, "title": null}},
       "y": {"field": "lo", "type": "quantitative", "scale": {"domain": [-1.91, 2.0], "nice": false, "zero": false}, "axis": {"values": [-1, 1], "labelExpr": "datum.value == 1 ? 'T' : 'A'", "title": "rt"}},
       "y2": {"field": "hi"},
       "detail": {"field": "s"}}},
    {"data": {"name": "ib"}, "mark": {"type": "rule", "color": "#aee6f8", "strokeWidth": 2.5, "clip": true},
     "encoding": {
       "x": {"field": "h", "type": "quantitative", "scale": {"domain": [0, 360], "nice": false, "zero": false}, "axis": {"values": [0,24,48,72,96,120,144,168,192,216,240,264,288,312,336], "labels": false, "domain": true, "domainColor": "#111", "domainWidth": 2.6, "title": null}},
       "y": {"field": "lo", "type": "quantitative", "scale": {"domain": [-1.91, 2.0], "nice": false, "zero": false}, "axis": {"values": [-1, 1], "labelExpr": "datum.value == 1 ? 'T' : 'A'", "title": "rt"}},
       "y2": {"field": "hi"}}},
    {"data": {"name": "one"}, "mark": {"type": "rule", "color": "#666666", "strokeWidth": 1},
     "encoding": {"y": {"datum": 0, "type": "quantitative", "scale": {"domain": [-1.91, 2.0], "nice": false, "zero": false}, "axis": {"values": [-1, 1], "labelExpr": "datum.value == 1 ? 'T' : 'A'", "title": "rt"}}}},
    {"data": {"name": "ir"}, "mark": {"type": "line", "color": "#ff5050", "strokeWidth": 1.2, "clip": true},
     "encoding": {
       "x": {"field": "h", "type": "quantitative", "scale": {"domain": [0, 360], "nice": false, "zero": false}, "axis": {"values": [0,24,48,72,96,120,144,168,192,216,240,264,288,312,336], "labels": false, "domain": true, "domainColor": "#111", "domainWidth": 2.6, "title": null}},
       "y": {"field": "v", "type": "quantitative", "scale": {"domain": [-1.91, 2.0], "nice": false, "zero": false}, "axis": {"values": [-1, 1], "labelExpr": "datum.value == 1 ? 'T' : 'A'", "title": "rt"}}}},
    {"data": {"name": "igr"}, "mark": {"type": "line", "color": "#5a8a5a", "strokeWidth": 1.2, "clip": true},
     "encoding": {
       "x": {"field": "h", "type": "quantitative", "scale": {"domain": [0, 360], "nice": false, "zero": false}, "axis": {"values": [0,24,48,72,96,120,144,168,192,216,240,264,288,312,336], "labels": false, "domain": true, "domainColor": "#111", "domainWidth": 2.6, "title": null}},
       "y": {"field": "v", "type": "quantitative", "scale": {"domain": [-1.91, 2.0], "nice": false, "zero": false}, "axis": {"values": [-1, 1], "labelExpr": "datum.value == 1 ? 'T' : 'A'", "title": "rt"}}}}
  ]},
  {"width": 584, "height": 45, "layer": [
    {"data": {"name": "one"}, "mark": "rule", "encoding": {"y": {"datum": -10, "type": "quantitative", "scale": {"domain": [-20.6, 20.9], "nice": false, "zero": false}, "axis": {"values": [-10, 0, 10], "title": "rt"}}}},
    {"data": {"name": "one"}, "mark": "rule", "encoding": {"y": {"datum": 10, "type": "quantitative", "scale": {"domain": [-20.6, 20.9], "nice": false, "zero": false}, "axis": {"values": [-10, 0, 10], "title": "rt"}}}},
    {"data": {"name": "one"}, "mark": {"type": "rule", "color": "#aa0000", "strokeWidth": 1.2},
     "encoding": {"y": {"datum": 0, "type": "quantitative", "scale": {"domain": [-20.6, 20.9], "nice": false, "zero": false}, "axis": {"values": [-10, 0, 10], "title": "rt"}}}},
    {"data": {"name": "bz"}, "mark": {"type": "line", "color": "#ff0000", "strokeWidth": 1.4, "clip": true},
     "encoding": {
       "x": {"field": "h", "type": "quantitative", "scale": {"domain": [0, 360], "nice": false, "zero": false}, "axis": {"values": [0,24,48,72,96,120,144,168,192,216,240,264,288,312,336], "labels": false, "domain": true, "domainColor": "#111", "domainWidth": 2.6, "title": null}},
       "y": {"field": "v", "type": "quantitative", "scale": {"domain": [-20.6, 20.9], "nice": false, "zero": false}, "axis": {"values": [-10, 0, 10], "title": "rt"}},
       "detail": {"field": "s"}}},
    {"data": {"name": "bt"}, "mark": {"type": "line", "color": "#1010ff", "strokeWidth": 1.2, "clip": true},
     "encoding": {
       "x": {"field": "h", "type": "quantitative", "scale": {"domain": [0, 360], "nice": false, "zero": false}, "axis": {"values": [0,24,48,72,96,120,144,168,192,216,240,264,288,312,336], "labels": false, "domain": true, "domainColor": "#111", "domainWidth": 2.6, "title": null}},
       "y": {"field": "v", "type": "quantitative", "scale": {"domain": [-20.6, 20.9], "nice": false, "zero": false}, "axis": {"values": [-10, 0, 10], "title": "rt"}},
       "detail": {"field": "s"}}}
  ]},
  {"width": 584, "height": 45, "layer": [
    {"data": {"name": "one"}, "mark": "rule", "encoding": {"y": {"datum": -50, "type": "quantitative", "scale": {"domain": [-95.5, 48.7], "nice": false, "zero": false}, "axis": {"values": [-50, 0], "title": null}}}},
    {"data": {"name": "one"}, "mark": {"type": "rule", "color": "#d06a6a", "strokeWidth": 2.2},
     "encoding": {"y": {"datum": 0, "type": "quantitative", "scale": {"domain": [-95.5, 48.7], "nice": false, "zero": false}, "axis": {"values": [-50, 0], "title": null}}}},
    {"data": {"name": "dst"}, "mark": {"type": "line", "color": "#ee22ee", "strokeWidth": 1, "clip": true},
     "encoding": {
       "x": {"field": "h", "type": "quantitative", "scale": {"domain": [0, 360], "nice": false, "zero": false}, "axis": {"values": [0,24,48,72,96,120,144,168,192,216,240,264,288,312,336], "labels": false, "domain": true, "domainColor": "#111", "domainWidth": 2.6, "title": null}},
       "y": {"field": "v", "type": "quantitative", "scale": {"domain": [-95.5, 48.7], "nice": false, "zero": false}, "axis": {"values": [-50, 0], "title": null}}}}
  ]},
  {"width": 584, "height": 45, "layer": [
    {"data": {"name": "one"}, "mark": "rule", "encoding": {"y": {"datum": 20, "type": "quantitative", "scale": {"domain": [1.07, 61], "nice": false, "zero": false}, "axis": {"values": [20, 40], "title": null}}}},
    {"data": {"name": "one"}, "mark": "rule", "encoding": {"y": {"datum": 40, "type": "quantitative", "scale": {"domain": [1.07, 61], "nice": false, "zero": false}, "axis": {"values": [20, 40], "title": null}}}},
    {"data": {"name": "c2"}, "mark": {"type": "line", "color": "#33dede", "strokeWidth": 1, "clip": true},
     "encoding": {
       "x": {"field": "h", "type": "quantitative", "scale": {"domain": [0, 360], "nice": false, "zero": false}, "axis": {"values": [0,24,48,72,96,120,144,168,192,216,240,264,288,312,336], "labels": false, "domain": true, "domainColor": "#111", "domainWidth": 2.6, "title": null}},
       "y": {"field": "v", "type": "quantitative", "scale": {"domain": [1.07, 61], "nice": false, "zero": false}, "axis": {"values": [20, 40], "title": null}}}},
    {"data": {"name": "c1"}, "mark": {"type": "line", "color": "#00eeee", "strokeWidth": 1.1, "clip": true},
     "encoding": {
       "x": {"field": "h", "type": "quantitative", "scale": {"domain": [0, 360], "nice": false, "zero": false}, "axis": {"values": [0,24,48,72,96,120,144,168,192,216,240,264,288,312,336], "labels": false, "domain": true, "domainColor": "#111", "domainWidth": 2.6, "title": null}},
       "y": {"field": "v", "type": "quantitative", "scale": {"domain": [1.07, 61], "nice": false, "zero": false}, "axis": {"values": [20, 40], "title": null}}}}
  ]},
  {"width": 584, "height": 45, "layer": [
    {"data": {"name": "one"}, "mark": {"type": "rule", "color": "#cc0000", "strokeWidth": 1.2},
     "encoding": {"y": {"datum": 6, "type": "quantitative", "scale": {"domain": [5.01, 7.71], "nice": false, "zero": false}, "axis": {"values": [6, 7], "labelExpr": "'10' + ['⁰','¹','²','³','⁴','⁵','⁶','⁷'][datum.value]", "title": "rt"}}}},
    {"data": {"name": "one"}, "mark": {"type": "rule", "color": "#cc0000", "strokeWidth": 1.2},
     "encoding": {"y": {"datum": 7, "type": "quantitative", "scale": {"domain": [5.01, 7.71], "nice": false, "zero": false}, "axis": {"values": [6, 7], "labelExpr": "'10' + ['⁰','¹','²','³','⁴','⁵','⁶','⁷'][datum.value]", "title": "rt"}}}},
    {"data": {"name": "pe"}, "mark": {"type": "line", "color": "#a733ee", "strokeWidth": 1.1, "clip": true},
     "encoding": {
       "x": {"field": "h", "type": "quantitative", "scale": {"domain": [0, 360], "nice": false, "zero": false}, "axis": {"values": [0,24,48,72,96,120,144,168,192,216,240,264,288,312,336], "labels": false, "domain": true, "domainColor": "#111", "domainWidth": 2.6, "title": null}},
       "y": {"field": "v", "type": "quantitative", "scale": {"domain": [5.01, 7.71], "nice": false, "zero": false}, "axis": {"values": [6, 7], "labelExpr": "'10' + ['⁰','¹','²','³','⁴','⁵','⁶','⁷'][datum.value]", "title": "rt"}}}}
  ]},
  {"width": 584, "height": 45, "layer": [
    {"data": {"name": "one"}, "mark": "rule", "encoding": {"y": {"datum": 2, "type": "quantitative", "scale": {"domain": [0.79, 5.14], "nice": false, "zero": false}, "axis": {"values": [2, 3, 4], "labelExpr": "'10' + ['⁰','¹','²','³','⁴','⁵','⁶','⁷'][datum.value]", "title": "rt"}}}},
    {"data": {"name": "one"}, "mark": "rule", "encoding": {"y": {"datum": 3, "type": "quantitative", "scale": {"domain": [0.79, 5.14], "nice": false, "zero": false}, "axis": {"values": [2, 3, 4], "labelExpr": "'10' + ['⁰','¹','²','³','⁴','⁵','⁶','⁷'][datum.value]", "title": "rt"}}}},
    {"data": {"name": "one"}, "mark": {"type": "rule", "color": "#e03a3a", "strokeWidth": 1.5, "strokeDash": [9, 6]},
     "encoding": {"y": {"datum": 4, "type": "quantitative", "scale": {"domain": [0.79, 5.14], "nice": false, "zero": false}, "axis": {"values": [2, 3, 4], "labelExpr": "'10' + ['⁰','¹','²','³','⁴','⁵','⁶','⁷'][datum.value]", "title": "rt"}}}},
    {"data": {"name": "pb"}, "mark": {"type": "line", "color": "#1010ff", "strokeWidth": 1.1, "clip": true},
     "encoding": {
       "x": {"field": "h", "type": "quantitative", "scale": {"domain": [0, 360], "nice": false, "zero": false}, "axis": {"values": [0,24,48,72,96,120,144,168,192,216,240,264,288,312,336], "labels": false, "domain": true, "domainColor": "#111", "domainWidth": 2.6, "title": null}},
       "y": {"field": "v", "type": "quantitative", "scale": {"domain": [0.79, 5.14], "nice": false, "zero": false}, "axis": {"values": [2, 3, 4], "labelExpr": "'10' + ['⁰','¹','²','³','⁴','⁵','⁶','⁷'][datum.value]", "title": "rt"}}}},
    {"data": {"name": "pr"}, "mark": {"type": "line", "color": "#ff0000", "strokeWidth": 1.3, "clip": true},
     "encoding": {
       "x": {"field": "h", "type": "quantitative", "scale": {"domain": [0, 360], "nice": false, "zero": false}, "axis": {"values": [0,24,48,72,96,120,144,168,192,216,240,264,288,312,336], "labels": false, "domain": true, "domainColor": "#111", "domainWidth": 2.6, "title": null}},
       "y": {"field": "v", "type": "quantitative", "scale": {"domain": [0.79, 5.14], "nice": false, "zero": false}, "axis": {"values": [2, 3, 4], "labelExpr": "'10' + ['⁰','¹','²','³','⁴','⁵','⁶','⁷'][datum.value]", "title": "rt"}}}}
  ]},
  {"width": 584, "height": 45, "layer": [
    {"data": {"name": "one"}, "mark": "rule", "encoding": {"y": {"datum": 0, "type": "quantitative", "scale": {"domain": [-0.73, 4.95], "nice": false, "zero": false}, "axis": {"values": [0, 2, 4], "labelExpr": "'10' + ['⁰','¹','²','³','⁴','⁵','⁶','⁷'][datum.value]", "title": null}}}},
    {"data": {"name": "one"}, "mark": "rule", "encoding": {"y": {"datum": 2, "type": "quantitative", "scale": {"domain": [-0.73, 4.95], "nice": false, "zero": false}, "axis": {"values": [0, 2, 4], "labelExpr": "'10' + ['⁰','¹','²','³','⁴','⁵','⁶','⁷'][datum.value]", "title": null}}}},
    {"data": {"name": "one"}, "mark": "rule", "encoding": {"y": {"datum": 4, "type": "quantitative", "scale": {"domain": [-0.73, 4.95], "nice": false, "zero": false}, "axis": {"values": [0, 2, 4], "labelExpr": "'10' + ['⁰','¹','²','³','⁴','⁵','⁶','⁷'][datum.value]", "title": null}}}},
    {"data": {"name": "p9"}, "mark": {"type": "line", "color": "#2222ee", "strokeWidth": 1.3, "clip": true},
     "encoding": {
       "x": {"field": "h", "type": "quantitative", "scale": {"domain": [0, 360], "nice": false, "zero": false}, "axis": {"values": [0,24,48,72,96,120,144,168,192,216,240,264,288,312,336], "labels": true, "labelExpr": "'4/' + (16 + datum.value / 24)", "labelOffset": 19.5, "labelPadding": 4, "labelFontSize": 9.5, "domain": true, "domainColor": "#111", "domainWidth": 2.6, "title": "2022", "titleX": -16, "titleY": 4, "titleAlign": "center", "titleBaseline": "top", "titleFontSize": 9.5, "titleFontWeight": "normal", "titleColor": "#111"}},
       "y": {"field": "v", "type": "quantitative", "scale": {"domain": [-0.73, 4.95], "nice": false, "zero": false}, "axis": {"values": [0, 2, 4], "labelExpr": "'10' + ['⁰','¹','²','³','⁴','⁵','⁶','⁷'][datum.value]", "title": null}}}}
  ]}
]
}
